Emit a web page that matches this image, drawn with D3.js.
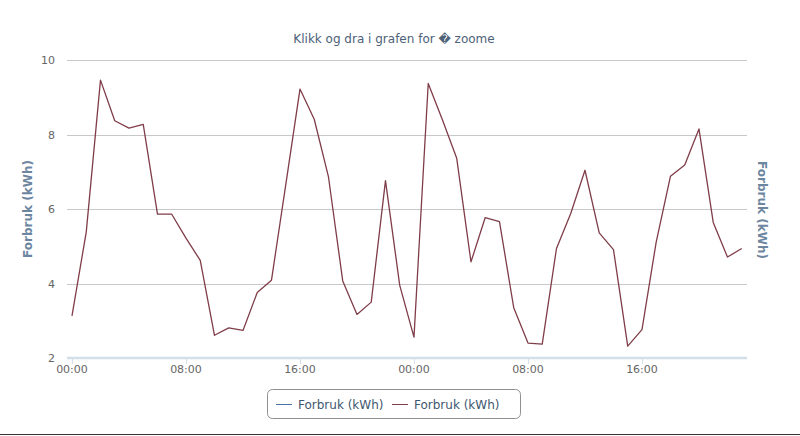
<!DOCTYPE html>
<html>
<head>
<meta charset="utf-8">
<script src="https://cdn.jsdelivr.net/npm/d3@7"></script>
<style>
html,body{margin:0;padding:0;background:#fff;}
svg{display:block;font-family:"DejaVu Sans",Verdana,sans-serif;}
</style>
</head>
<body>
<svg id="chart" width="800" height="436"></svg>
<script>
const title = "Klikk og dra i grafen for \uFFFD zoome";
const yTitle = "Forbruk (kWh)";
const legendLabels = ["Forbruk (kWh)", "Forbruk (kWh)"];
const legendColors = ["#4572A7", "#7f3d48"];
const yTicks = [2, 4, 6, 8, 10];
const xTickHours = [0, 8, 16, 24, 32, 40];
const xTickLabels = ["00:00", "08:00", "16:00", "00:00", "08:00", "16:00"];
const hours = d3.range(48);
const values = [
  3.13, 5.38, 9.46, 8.37, 8.17, 8.27, 5.86, 5.86, 5.22, 4.62, 2.61, 2.81,
  2.74, 3.76, 4.09, 6.65, 9.22, 8.41, 6.86, 4.07, 3.17, 3.50, 6.76, 3.95,
  2.56, 9.37, 8.39, 7.36, 4.58, 5.77, 5.66, 3.35, 2.40, 2.37, 4.94, 5.88,
  7.04, 5.36, 4.91, 2.32, 2.76, 5.12, 6.88, 7.18, 8.15, 5.64, 4.71, 4.94
];

(function () {
const svg = d3.select("#chart");
const pL = 67, pR = 747, pT = 60, pB = 358;

const x = d3.scaleLinear().domain([-0.35, 47.37]).range([pL, pR]);
const y = d3.scaleLinear().domain([2, 10]).range([pB, pT]);

// title
svg.append("text").attr("x", 394).attr("y", 43).attr("text-anchor", "middle")
  .attr("font-size", 12).attr("fill", "#4d6178").text(title);

// gridlines
svg.append("g").selectAll("line").data(yTicks.filter(d => d !== 2)).join("line")
  .attr("x1", pL).attr("x2", pR)
  .attr("y1", d => Math.round(y(d)) + 0.5).attr("y2", d => Math.round(y(d)) + 0.5)
  .attr("stroke", "#c8c8c8").attr("stroke-width", 1);

// y labels
svg.append("g").selectAll("text").data(yTicks).join("text")
  .attr("x", 55).attr("y", d => y(d) + 4).attr("text-anchor", "end")
  .attr("font-size", 11).attr("fill", "#666").text(d => d);

// x axis line
svg.append("line").attr("x1", pL).attr("x2", pR)
  .attr("y1", pB).attr("y2", pB)
  .attr("stroke", "#d3dfea").attr("stroke-width", 2.5);

// x ticks
const xt = svg.append("g");
xt.selectAll("line").data(xTickHours).join("line")
  .attr("x1", d => Math.round(x(d)) + 0.5).attr("x2", d => Math.round(x(d)) + 0.5)
  .attr("y1", pB + 1).attr("y2", pB + 6)
  .attr("stroke", "#d3dfea").attr("stroke-width", 1);
xt.selectAll("text").data(xTickHours).join("text")
  .attr("x", d => x(d)).attr("y", 373).attr("text-anchor", "middle")
  .attr("font-size", 11).attr("fill", "#666").text((d, i) => xTickLabels[i]);

// axis titles
svg.append("text").attr("transform", "translate(32,209) rotate(-90)")
  .attr("text-anchor", "middle").attr("font-size", 12).attr("font-weight", "bold")
  .attr("fill", "#6d869f").text(yTitle);
svg.append("text").attr("transform", "translate(758,210) rotate(90)")
  .attr("text-anchor", "middle").attr("font-size", 12).attr("font-weight", "bold")
  .attr("fill", "#6d869f").text(yTitle);

// series line
const line = d3.line().x((d, i) => x(hours[i])).y(d => y(d));
svg.append("path").datum(values).attr("d", line)
  .attr("fill", "none").attr("stroke", legendColors[1]).attr("stroke-width", 1.3)
  .attr("stroke-linejoin", "round");

// legend
const lg = svg.append("g");
lg.append("rect").attr("x", 267.5).attr("y", 389.5).attr("width", 253).attr("height", 29)
  .attr("rx", 5).attr("fill", "#fff").attr("stroke", "#909090").attr("stroke-width", 1);
const legendX = [276, 392];
legendLabels.forEach((lab, i) => {
  lg.append("line").attr("x1", legendX[i]).attr("x2", legendX[i] + 16)
    .attr("y1", 404.5).attr("y2", 404.5).attr("stroke", legendColors[i]).attr("stroke-width", 1);
  lg.append("text").attr("x", legendX[i] + 22).attr("y", 408.5)
    .attr("font-size", 12).attr("fill", "#3e576f").text(lab);
});

// bottom border
svg.append("line").attr("x1", 0).attr("x2", 800).attr("y1", 434.5).attr("y2", 434.5)
  .attr("stroke", "#333").attr("stroke-width", 1);
})();
</script>
</body>
</html>
